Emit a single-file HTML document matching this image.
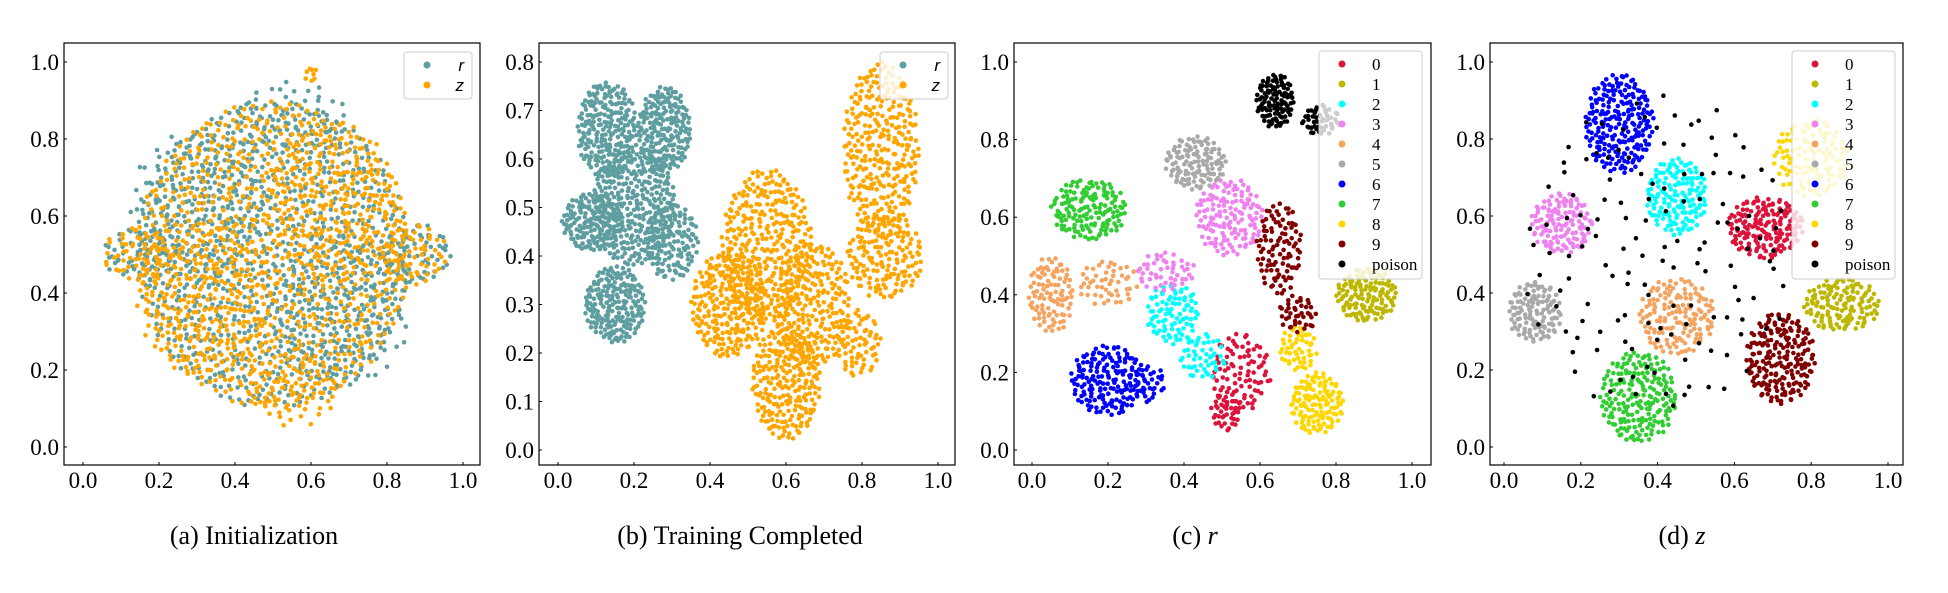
<!DOCTYPE html>
<html><head><meta charset="utf-8"><style>
html,body{margin:0;padding:0;background:#fff;}
svg{display:block;font-family:"Liberation Serif",serif;}
</style></head><body>
<svg id="fig" width="1948" height="593" viewBox="0 0 1948 593" xmlns="http://www.w3.org/2000/svg"></svg>
<script>
// ---- data: blobs [cx, cy, rx, ry, count] per series ----
const seriesA_r = [[0.5,0.5,0.36,0.40,900],[0.3,0.62,0.18,0.2,150],[0.68,0.35,0.18,0.2,150],[0.15,0.5,0.1,0.07,50],[0.88,0.5,0.09,0.08,60],[0.55,0.85,0.15,0.1,60]];
const seriesA_z = [[0.5,0.5,0.36,0.40,900],[0.32,0.38,0.18,0.2,150],[0.66,0.64,0.18,0.2,150],[0.14,0.5,0.09,0.07,50],[0.87,0.5,0.09,0.08,60],[0.55,0.15,0.12,0.1,60],[0.6,0.97,0.02,0.02,8]];
const seriesB_r = [[0.13,0.66,0.08,0.1,230],[0.28,0.66,0.07,0.09,200],[0.09,0.47,0.08,0.06,150],[0.2,0.5,0.11,0.12,330],[0.15,0.3,0.08,0.08,200],[0.3,0.43,0.07,0.08,130]];
const seriesB_z = [[0.45,0.3,0.1,0.11,240],[0.55,0.42,0.12,0.16,330],[0.6,0.14,0.09,0.12,230],[0.67,0.3,0.1,0.13,230],[0.85,0.62,0.1,0.18,300],[0.86,0.4,0.1,0.09,160],[0.79,0.22,0.06,0.07,70]];
const classNames = ["0","1","2","3","4","5","6","7","8","9","poison"];
const classColors = ["#dc143c","#bdb700","#00ffff","#ee82ee","#f4a460","#a9a9a9","#0000ff","#32cd32","#ffd700","#800000","#000000"];
const clustersC = [
 [[0.55,0.2,0.08,0.1,90],[0.51,0.1,0.04,0.05,40]],
 [[0.88,0.4,0.08,0.07,130]],
 [[0.37,0.35,0.07,0.08,90],[0.45,0.24,0.06,0.06,50]],
 [[0.52,0.6,0.09,0.1,140],[0.35,0.46,0.08,0.05,50]],
 [[0.05,0.4,0.06,0.1,100],[0.2,0.43,0.08,0.06,50]],
 [[0.43,0.74,0.08,0.07,120]],
 [[0.2,0.18,0.1,0.09,170],[0.31,0.17,0.04,0.05,30]],
 [[0.15,0.62,0.1,0.08,150]],
 [[0.75,0.12,0.07,0.08,130],[0.7,0.26,0.05,0.06,50]],
 [[0.65,0.52,0.06,0.12,100],[0.7,0.35,0.05,0.05,40]],
 [[0.64,0.9,0.05,0.07,110],[0.76,0.85,0.05,0.04,50]]
];
const clustersD = [
 [[0.68,0.57,0.1,0.08,170]],
 [[0.88,0.37,0.1,0.07,130]],
 [[0.45,0.65,0.08,0.1,150]],
 [[0.15,0.58,0.08,0.08,130]],
 [[0.45,0.34,0.1,0.1,150]],
 [[0.08,0.35,0.07,0.08,120]],
 [[0.3,0.84,0.09,0.13,220]],
 [[0.35,0.13,0.1,0.12,200]],
 [[0.8,0.75,0.1,0.1,120]],
 [[0.72,0.23,0.09,0.12,200]],
 [[0.4,0.5,0.35,0.42,140]]
];
const ticks01 = ["0.0","0.2","0.4","0.6","0.8","1.0"];
const ticksB_y = ["0.0","0.1","0.2","0.3","0.4","0.5","0.6","0.7","0.8"];
const captions = ["(a) Initialization","(b) Training Completed","(c) ","(d) "];
const captionVars = ["","","r","z"];

const NS="http://www.w3.org/2000/svg";
const svg=document.getElementById('fig');
function mk(tag,attrs,parent){const e=document.createElementNS(NS,tag);for(const k in attrs)e.setAttribute(k,attrs[k]);(parent||svg).appendChild(e);return e;}
function halton(i,b){let f=1,r=0;while(i>0){f/=b;r+=f*(i%b);i=Math.floor(i/b);}return r;}
let hIdx=1;
function blobPoints(bl){const pts=[];const [cx,cy,rx,ry,n]=bl;for(let k=0;k<n;k++){const u=halton(hIdx,2),v=halton(hIdx,3);hIdx++;const rr=Math.sqrt(u),th=v*2*Math.PI;pts.push([cx+rx*rr*Math.cos(th),cy+ry*rr*Math.sin(th)]);}return pts;}

const panels=[
 {l:64,r:480,t:43,b:465,x0:83,x1:463,y0:447,y1:62,ymax:1,yt:ticks01,cx:254},
 {l:539,r:955,t:43,b:465,x0:558,x1:938,y0:450,y1:62,ymax:0.8,yt:ticksB_y,cx:740},
 {l:1014,r:1431,t:43,b:465,x0:1032,x1:1412,y0:450,y1:62,ymax:1,yt:ticks01,cx:1195},
 {l:1490,r:1903,t:43,b:465,x0:1504,x1:1888,y0:447,y1:62,ymax:1,yt:ticks01,cx:1682}
];
function xs(p,v){return p.x0+(p.x1-p.x0)*v;}
function ys(p,v){return p.y0+(p.y1-p.y0)*v/p.ymax;}

function drawAxes(p,i){
 const g=mk('g',{});
 
 
 ticks01.forEach(t=>{const x=xs(p,+t);mk('line',{x1:x,x2:x,y1:p.b,y2:p.b-3,stroke:'#000','stroke-width':1},g);
  const tx=mk('text',{x:x,y:488,'text-anchor':'middle','font-size':23},g);tx.textContent=t;
  });
 p.yt.forEach(t=>{const y=ys(p,+t);mk('line',{x1:p.l,x2:p.l+3,y1:y,y2:y,stroke:'#000','stroke-width':1},g);
  const tx=mk('text',{x:p.l-5,y:y+8,'text-anchor':'end','font-size':23},g);tx.textContent=t;
  });
 const c=mk('text',{x:p.cx,y:544,'text-anchor':'middle','font-size':26},g);
 c.textContent=captions[i];
 if(captionVars[i]){const ts=mk('tspan',{'font-style':'italic'},c);ts.textContent=captionVars[i];}
 
 return g;
}
function drawPts(p,blobs,color,g){blobs.forEach(bl=>blobPoints(bl).forEach(q=>{const x=xs(p,q[0]),y=ys(p,q[1]);if(x<p.l+3||x>p.r-3||y<p.t+3||y>p.b-3)return;mk('circle',{cx:x.toFixed(1),cy:y.toFixed(1),r:2.3,fill:color},g);}));}
function frame(p){const f=mk('rect',{x:p.l,y:p.t,width:p.r-p.l,height:p.b-p.t,fill:'none',stroke:'#000','stroke-width':1.2});}
function legend(x,y,w,h,items,mx,lx,step,italic,fs){
 const g=mk('g',{});
 
 
 mk('rect',{x:x,y:y,width:w,height:h,rx:3,fill:'rgba(255,255,255,0.8)',stroke:'#ccc','stroke-width':1},g);
 items.forEach((it,k)=>{const cy=y+13+k*step;mk('circle',{cx:mx,cy:cy,r:3.5,fill:it[1]},g);
  const t=mk('text',{x:lx,y:cy+6,'font-size':fs,'font-style':italic?'italic':'normal','font-family':italic?'"Liberation Sans",sans-serif':'"Liberation Serif",serif','text-anchor':italic?'end':'start'},g);t.textContent=it[0];
  });
}
drawAxes(panels[0],0);
const gA=mk('g',{});
drawPts(panels[0],seriesA_r,'#5f9ea0',gA);drawPts(panels[0],seriesA_z,'#ffa500',gA);
frame(panels[0]);
legend(404,52,68,47,[['r','#5f9ea0'],['z','#ffa500']],427,464,20,true,17);
drawAxes(panels[1],1);
const gB=mk('g',{});
drawPts(panels[1],seriesB_r,'#5f9ea0',gB);drawPts(panels[1],seriesB_z,'#ffa500',gB);
frame(panels[1]);
legend(880,52,68,47,[['r','#5f9ea0'],['z','#ffa500']],903,940,20,true,17);
drawAxes(panels[2],2);
const gC=mk('g',{});
clustersC.forEach((bl,k)=>drawPts(panels[2],bl,classColors[k],gC));
frame(panels[2]);
legend(1319,51,103,228,classNames.map((n,k)=>[n,classColors[k]]),1342,1372,20,false,17);
drawAxes(panels[3],3);
const gD=mk('g',{});
clustersD.forEach((bl,k)=>drawPts(panels[3],bl,classColors[k],gD));
frame(panels[3]);
legend(1792,51,103,228,classNames.map((n,k)=>[n,classColors[k]]),1815,1845,20,false,17);
</script>
</body></html>
